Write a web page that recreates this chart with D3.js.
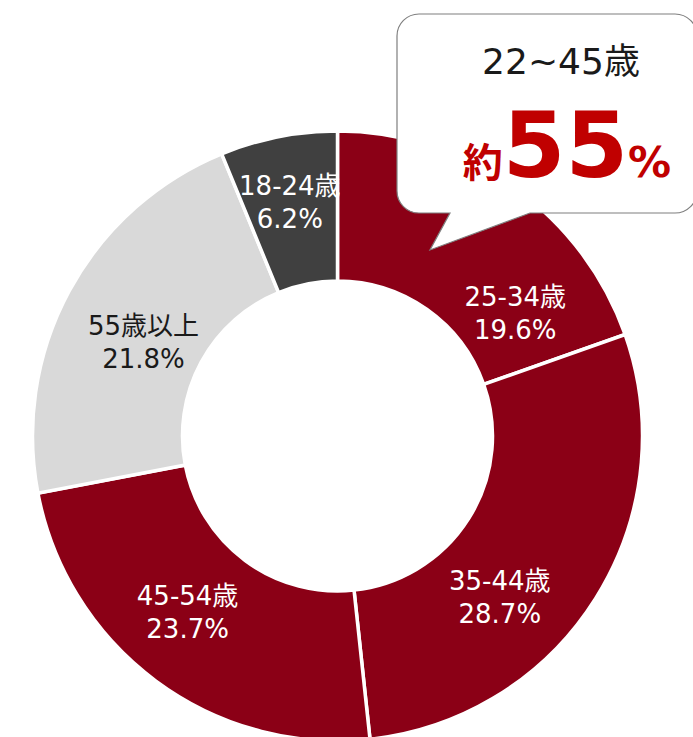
<!DOCTYPE html>
<html>
<head>
<meta charset="utf-8">
<script src="https://cdn.jsdelivr.net/npm/d3@7"></script>
<style>
    body { margin: 0; background: #fff; }
    text { font-family: "DejaVu Sans", "Noto Sans CJK JP", sans-serif; }
</style>
</head>
<body>
<div id="chart"></div>
<script>
// data
var ageGroups = ["25-34歳", "35-44歳", "45-54歳", "55歳以上", "18-24歳"];
var shares = [19.6, 28.7, 23.7, 21.8, 6.2];
var sliceColors = ["#8b0016", "#8b0016", "#8b0016", "#d9d9d9", "#404040"];
var labelColors = ["#fff", "#fff", "#fff", "#1a1a1a", "#fff"];
var calloutTitle = "22~45歳";
var calloutPrefix = "約";
var calloutValue = "55";
var calloutUnit = "%";

var width = 693;
var height = 737;
var cx = 337.5;
var cy = 436;
var outerR = 305;
var innerR = 155;

// label layout (excel "best fit"): shift from slice middle, degrees, and radius
var labelShift = [22.1, 14.1, 2.5, -4.7, -0.8];
var labelRad = [211, 235, 238, 212, 230];

var svg = d3.select("#chart").append("svg")
    .attr("width", width)
    .attr("height", height);

var pie = d3.pie().sort(null).value(function(d) { return d; });
var arcs = pie(shares);

var arc = d3.arc().innerRadius(innerR).outerRadius(outerR);

var g = svg.append("g").attr("transform", "translate(" + cx + "," + cy + ")");

g.selectAll("path.slice")
    .data(arcs)
    .enter().append("path")
    .attr("class", "slice")
    .attr("d", arc)
    .attr("fill", function(d, i) { return sliceColors[i]; })
    .attr("stroke", "#fff")
    .attr("stroke-width", 3.5)
    .attr("stroke-linejoin", "miter");

var labels = g.selectAll("g.lbl")
    .data(arcs)
    .enter().append("g")
    .attr("class", "lbl")
    .attr("transform", function(d, i) {
        var a = (d.startAngle + d.endAngle) / 2 + labelShift[i] * Math.PI / 180;
        var r = labelRad[i];
        return "translate(" + (Math.sin(a) * r) + "," + (-Math.cos(a) * r) + ")";
    });

labels.append("text")
    .attr("text-anchor", "middle")
    .attr("y", -16)
    .attr("font-size", 26)
    .attr("fill", function(d, i) { return labelColors[i]; })
    .text(function(d, i) { return ageGroups[i]; });

labels.append("text")
    .attr("text-anchor", "middle")
    .attr("y", 17)
    .attr("font-size", 26)
    .attr("fill", function(d, i) { return labelColors[i]; })
    .text(function(d, i) { return d3.format(".1f")(shares[i]) + "%"; });

// callout bubble
var bx = 397, by = 14, bw = 300, bh = 199, br = 22;
var tail = [[450, by + bh], [430, 250], [530, by + bh]];
var p = d3.path();
p.moveTo(bx + br, by);
p.lineTo(bx + bw - br, by);
p.arcTo(bx + bw, by, bx + bw, by + br, br);
p.lineTo(bx + bw, by + bh - br);
p.arcTo(bx + bw, by + bh, bx + bw - br, by + bh, br);
p.lineTo(tail[2][0], tail[2][1]);
p.lineTo(tail[1][0], tail[1][1]);
p.lineTo(tail[0][0], tail[0][1]);
p.lineTo(bx + br, by + bh);
p.arcTo(bx, by + bh, bx, by + bh - br, br);
p.lineTo(bx, by + br);
p.arcTo(bx, by, bx + br, by, br);
p.closePath();

svg.append("path")
    .attr("d", p.toString())
    .attr("fill", "#fff")
    .attr("stroke", "#7f7f7f")
    .attr("stroke-width", 1.2);

svg.append("text")
    .attr("x", 561)
    .attr("y", 74)
    .attr("text-anchor", "middle")
    .attr("font-size", 36)
    .attr("fill", "#1a1a1a")
    .text(calloutTitle);

var big = svg.append("text")
    .attr("x", 567)
    .attr("y", 177)
    .attr("text-anchor", "middle")
    .attr("fill", "#c00000")
    .attr("font-weight", "bold");
big.append("tspan").attr("font-size", 40)
    .style("font-family", "'Noto Sans CJK JP', sans-serif").text(calloutPrefix);
big.append("tspan").attr("font-size", 90).text(calloutValue);
big.append("tspan").attr("font-size", 43).text(calloutUnit);
</script>
</body>
</html>
